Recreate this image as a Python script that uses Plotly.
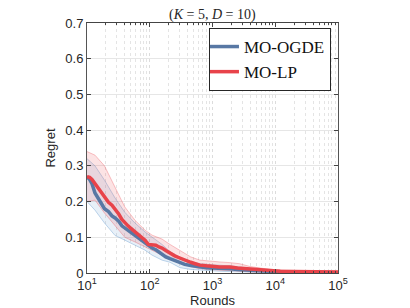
import plotly.graph_objects as go

rounds = [10, 11, 12, 13.4, 15, 17, 19, 22, 25, 28, 32, 36, 40, 45, 50, 58, 66, 75, 84, 95,
          109, 125, 140, 157, 180, 210, 250, 302, 360, 450, 530, 630, 800, 1000, 1300, 1600,
          1900, 2500, 3000, 3960, 5000, 6500, 8300, 12000, 19000, 30000, 50000, 100000]
ogde_mean = [0.27, 0.262, 0.25, 0.224, 0.21, 0.195, 0.18, 0.172, 0.16, 0.154, 0.145, 0.132, 0.126,
             0.12, 0.115, 0.106, 0.098, 0.09, 0.084, 0.078, 0.07, 0.065, 0.058, 0.052, 0.045, 0.04,
             0.034, 0.028, 0.024, 0.021, 0.019, 0.017, 0.015, 0.014, 0.014, 0.013, 0.012, 0.01,
             0.009, 0.008, 0.006, 0.005, 0.004, 0.003, 0.002, 0.0015, 0.001, 0.001]
lp_mean = [0.27, 0.268, 0.262, 0.25, 0.238, 0.222, 0.21, 0.198, 0.19, 0.18, 0.165, 0.15, 0.14,
           0.132, 0.125, 0.115, 0.108, 0.1, 0.092, 0.08, 0.078, 0.078, 0.073, 0.07, 0.063, 0.055,
           0.048, 0.042, 0.036, 0.03, 0.026, 0.022, 0.02, 0.018, 0.017, 0.017, 0.017, 0.014,
           0.013, 0.011, 0.009, 0.007, 0.006, 0.005, 0.004, 0.0035, 0.003, 0.003]

band_rounds = [10, 13.4, 19, 28, 40, 58, 84, 109, 157, 210, 302, 450, 630, 1000, 1300, 1900,
               2700, 4000, 8300, 20000, 100000]
lp_upper = [0.34, 0.33, 0.30, 0.24, 0.185, 0.148, 0.12, 0.106, 0.095, 0.08, 0.064, 0.045, 0.036,
            0.032, 0.031, 0.029, 0.026, 0.018, 0.01, 0.007, 0.005]
lp_lower = [0.20, 0.204, 0.168, 0.134, 0.10, 0.087, 0.073, 0.062, 0.05, 0.04, 0.03, 0.018, 0.012,
            0.009, 0.008, 0.007, 0.005, 0.003, 0.002, 0.001, 0.001]
ogde_upper = [0.32, 0.30, 0.26, 0.21, 0.17, 0.14, 0.115, 0.1, 0.08, 0.06, 0.044, 0.032, 0.026,
              0.023, 0.022, 0.02, 0.017, 0.013, 0.008, 0.005, 0.003]
ogde_lower = [0.20, 0.176, 0.14, 0.105, 0.092, 0.078, 0.064, 0.05, 0.036, 0.03, 0.015, 0.01,
              0.008, 0.005, 0.005, 0.004, 0.003, 0.002, 0.001, 0.0005, 0.0]

x_ticks = [10, 100, 1000, 10000, 100000]
x_tick_labels = ["10<sup>1</sup>", "10<sup>2</sup>", "10<sup>3</sup>", "10<sup>4</sup>", "10<sup>5</sup>"]
x_minor_ticks = [m * d for d in [10, 100, 1000, 10000] for m in range(2, 10)]
y_ticks = [0, 0.1, 0.2, 0.3, 0.4, 0.5, 0.6, 0.7]
y_tick_labels = ["0", "0.1", "0.2", "0.3", "0.4", "0.5", "0.6", "0.7"]

BLUE = "#5878a4"
RED = "#e8434a"

fig = go.Figure()


def band(xs, up, lo, fill, edge):
    fig.add_trace(go.Scatter(x=xs, y=lo, mode="lines", line=dict(color=edge, width=0.8),
                             showlegend=False, hoverinfo="skip"))
    fig.add_trace(go.Scatter(x=xs, y=up, mode="lines", line=dict(color=edge, width=0.8),
                             fill="tonexty", fillcolor=fill, showlegend=False, hoverinfo="skip"))


band(band_rounds, ogde_upper, ogde_lower, "rgba(110,160,210,0.16)", "rgba(110,160,210,0.55)")
band(band_rounds, lp_upper, lp_lower, "rgba(232,67,74,0.15)", "rgba(232,67,74,0.4)")

fig.add_trace(go.Scatter(x=rounds, y=ogde_mean, mode="lines", name="MO-OGDE",
                         line=dict(color=BLUE, width=3.5)))
fig.add_trace(go.Scatter(x=rounds, y=lp_mean, mode="lines", name="MO-LP",
                         line=dict(color=RED, width=3.5)))

axis_font = dict(family="Liberation Sans, Arial, sans-serif", size=13, color="#262626")

fig.update_layout(
    width=410, height=308,
    margin=dict(l=87, r=72, t=23, b=35),
    paper_bgcolor="white", plot_bgcolor="white",
    title=dict(text="(<i>K</i> = 5, <i>D</i> = 10)", x=0.518, xanchor="center", y=0.955,
               yanchor="middle",
               font=dict(family="Liberation Serif, DejaVu Serif, serif", size=14, color="#262626")),
    showlegend=True,
    legend=dict(x=0.972, y=0.98, xanchor="right", yanchor="top", traceorder="normal",
                bgcolor="white", bordercolor="#262626", borderwidth=1,
                font=dict(family="Liberation Serif, DejaVu Serif, serif", size=17, color="#111"),
                tracegroupgap=0, itemwidth=30, indentation=-6),
    xaxis=dict(type="log", range=[1, 5], tickvals=x_ticks, ticktext=x_tick_labels,
               automargin=False,
               showline=True, mirror="ticks", linecolor="#444", linewidth=1,
               ticks="inside", ticklen=4, tickcolor="#444",
               showgrid=True, gridcolor="#dcdcdc", griddash="3px,3px", gridwidth=0.7,
               minor=dict(tickmode="array", tickvals=x_minor_ticks, ticks="inside", ticklen=2,
                          tickcolor="#444", showgrid=True,
                          gridcolor="#e4e4e4", griddash="3px,3px", gridwidth=0.6),
               tickfont=axis_font, zeroline=False,
               title=dict(text="Rounds", font=axis_font, standoff=4)),
    yaxis=dict(range=[0, 0.7], tickvals=y_ticks, ticktext=y_tick_labels,
               automargin=False,
               showline=True, mirror="ticks", linecolor="#555", linewidth=1,
               ticks="inside", ticklen=4, tickcolor="#444",
               showgrid=True, gridcolor="#e6e6e6", gridwidth=0.8,
               tickfont=axis_font, zeroline=False,
               title=dict(text="Regret", font=axis_font, standoff=6)),
)

fig.write_html("out.html", config={"displayModeBar": False},
               post_script="document.body.style.margin='0';")
